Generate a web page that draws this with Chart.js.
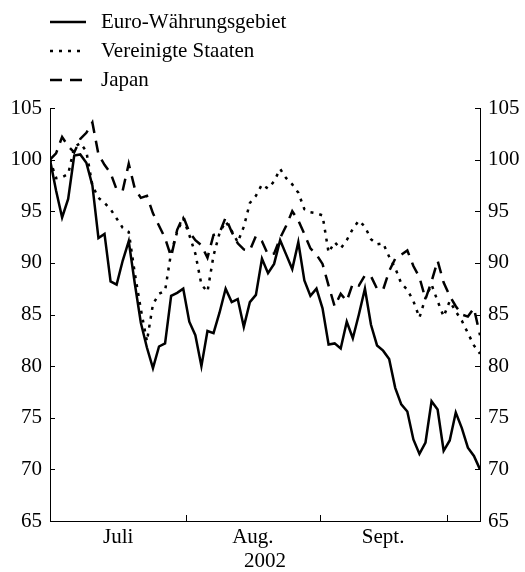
<!DOCTYPE html>
<html lang="de">
<head>
<meta charset="utf-8">
<title>Euro-Währungsgebiet, Vereinigte Staaten, Japan 2002</title>
<script src="https://cdn.jsdelivr.net/npm/chart.js@4.4.1/dist/chart.umd.min.js"></script>
<style>
  html, body { margin: 0; padding: 0; background: #fff; }
  #wrap   { position: relative; width: 525px; height: 572px; }
  #legend { position: absolute; left: 50px; top: 7px; font-family: "Liberation Serif", "Times New Roman", serif;
            font-size: 21px; color: #000; }
  #legend .row { display: flex; align-items: center; height: 29px; white-space: nowrap; }
  #legend canvas { margin-right: 15px; }
</style>
</head>
<body>
<div id="wrap">
  <canvas id="chart"></canvas>
  <div id="legend"></div>
</div>
<script>
// ------ Data (Handelstage 1. Juli – 8. Okt. 2002, Index) ------

const euroArea = [
  100.0, 97.0, 94.4, 96.2, 100.4, 100.5, 99.7, 97.5, 92.4, 92.8,
  88.2, 87.9, 90.2, 92.1, 88.0, 84.2, 81.8, 79.8, 81.9, 82.2,
  86.8, 87.1, 87.5, 84.3, 83.0, 80.0, 83.4, 83.2, 85.2, 87.5,
  86.2, 86.5, 83.8, 86.2, 86.9, 90.4, 89.0, 89.9, 92.2, 90.8,
  89.4, 92.0, 88.3, 86.8, 87.5, 85.6, 82.1, 82.2, 81.7, 84.3,
  82.7, 85.0, 87.5, 84.0, 82.0, 81.5, 80.7, 77.9, 76.3, 75.6,
  72.9, 71.5, 72.6, 76.6, 75.8, 71.8, 72.8, 75.5, 74.0, 72.1,
  71.3, 70.0
];

const unitedStates = [
  100.0, 98.2, 98.3, 98.6, 101.2, 101.6, 100.8, 97.5, 96.3, 95.8,
  95.2, 94.3, 93.4, 93.0, 89.0, 85.5, 82.4, 86.0, 87.0, 87.3,
  91.0, 93.0, 94.3, 92.7, 90.9, 87.9, 87.2, 90.7, 92.9, 94.0,
  93.1, 92.0, 93.5, 95.8, 96.5, 97.6, 97.2, 97.9, 99.1, 98.2,
  97.6, 96.8, 95.2, 94.9, 94.8, 94.6, 91.0, 92.0, 91.4, 92.2,
  93.3, 94.1, 93.5, 92.3, 91.8, 91.9, 90.6, 89.5, 88.0, 87.4,
  86.3, 84.7, 86.6, 87.9, 86.3, 84.8, 86.3, 85.3, 84.4, 83.2,
  82.0, 81.2
];

const japan = [
  100.0, 100.6, 102.2, 101.3, 100.7, 102.0, 102.6, 103.6, 100.5, 99.5,
  98.7, 97.1, 97.0, 99.6, 97.2, 96.3, 96.5, 94.8, 93.6, 92.4,
  90.6, 93.2, 94.5, 93.0, 92.2, 91.7, 90.5, 92.7, 92.9, 94.4,
  93.0, 91.9, 91.3, 91.2, 92.6, 92.1, 90.8, 90.9, 92.4, 93.6,
  95.0, 94.1, 92.8, 91.4, 90.8, 89.9, 87.8, 85.8, 87.0, 86.3,
  88.0, 87.8, 88.8, 88.7, 87.5, 87.4, 89.2, 90.4, 90.8, 91.2,
  89.7, 88.6, 86.5, 88.2, 90.2, 88.1, 86.8, 85.8, 85.0, 84.8,
  85.6, 83.0
];

const seriesLabels = ['Euro-Währungsgebiet', 'Vereinigte Staaten', 'Japan'];
const monthNames   = ['Juli', 'Aug.', 'Sept.'];
const monthCenters = [11.25, 33.5, 55];     // Mitte jedes Monats (Handelstag-Index)
const monthEdges   = [22.5, 44.5, 65.5];    // Monatswechsel
const yTicks       = [65, 70, 75, 80, 85, 90, 95, 100, 105];
const yearLabel    = '2002';

const FONT = { family: '"Liberation Serif", "Times New Roman", serif', size: 21 };

// ------ Plugins ------

// short tick marks pointing into the plot
const innerTicks = {
  id: 'innerTicks',
  afterDraw(chart) {
    const { ctx, chartArea: a, scales } = chart;
    ctx.save();
    ctx.strokeStyle = '#000';
    ctx.lineWidth = 1;
    ctx.beginPath();
    yTicks.forEach(v => {
      const py = Math.round(scales.y.getPixelForValue(v)) + 0.5;
      ctx.moveTo(a.left, py);  ctx.lineTo(a.left + 5, py);
      ctx.moveTo(a.right, py); ctx.lineTo(a.right - 5, py);
    });
    monthEdges.forEach(v => {
      const px = Math.round(scales.x.getPixelForValue(v)) + 0.5;
      ctx.moveTo(px, a.bottom); ctx.lineTo(px, a.bottom - 6);
    });
    ctx.stroke();
    ctx.restore();
  }
};

// vertical legend as html
const htmlLegend = {
  id: 'htmlLegend',
  afterUpdate(chart) {
    const box = document.getElementById('legend');
    box.innerHTML = '';
    chart.data.datasets.forEach(ds => {
      const row = document.createElement('div');
      row.className = 'row';
      const sw = document.createElement('canvas');
      sw.width = 36; sw.height = 10;
      const c = sw.getContext('2d');
      c.strokeStyle = ds.borderColor;
      c.lineWidth = ds.borderWidth;
      c.setLineDash(ds.borderDash || []);
      c.beginPath(); c.moveTo(0, 5); c.lineTo(36, 5); c.stroke();
      const txt = document.createElement('span');
      txt.textContent = ds.label;
      row.append(sw, txt);
      box.append(row);
    });
  }
};

// ------ Chart ------

const toPoints = arr => arr.map((v, i) => ({ x: i, y: v }));

const lineStyle = { borderColor: '#000', borderWidth: 2.5, pointRadius: 0, tension: 0,
                    borderCapStyle: 'butt', borderJoinStyle: 'miter', fill: false };

const yScale = pos => ({
  type: 'linear', position: pos, min: 65, max: 105,
  afterBuildTicks: s => { s.ticks = yTicks.map(v => ({ value: v })); },
  grid: { drawOnChartArea: false, drawTicks: false },
  border: { display: true, color: '#000', width: 1 },
  ticks: { font: FONT, color: '#000', padding: 8 },
  afterFit: s => { s.width = pos === 'left' ? 50 : 45; }
});

new Chart(document.getElementById('chart'), {
  type: 'line',
  data: {
    datasets: [
      { ...lineStyle, label: seriesLabels[0], data: toPoints(euroArea) },
      { ...lineStyle, label: seriesLabels[1], data: toPoints(unitedStates), borderDash: [3, 6] },
      { ...lineStyle, label: seriesLabels[2], data: toPoints(japan), borderDash: [12, 8] }
    ]
  },
  options: {
    responsive: true,
    maintainAspectRatio: false,
    animation: false,
    layout: { padding: { top: 108, left: 0, right: 0, bottom: 0 } },
    plugins: { legend: { display: false }, tooltip: { enabled: false } },
    scales: {
      x: {
        type: 'linear', min: 0, max: euroArea.length - 1,
        afterBuildTicks: s => { s.ticks = monthCenters.map(v => ({ value: v })); },
        grid: { drawOnChartArea: false, drawTicks: false },
        border: { display: true, color: '#000', width: 1 },
        ticks: { font: FONT, color: '#000', padding: 4, maxRotation: 0, autoSkip: false,
                 callback: (v, i) => monthNames[i] },
        title: { display: true, text: yearLabel, font: { ...FONT, lineHeight: 1 }, color: '#000',
                 padding: { top: 0, bottom: 0 } },
        afterFit: s => { s.height = 51; }
      },
      y:  yScale('left'),
      y2: yScale('right')
    }
  },
  plugins: [innerTicks, htmlLegend]
});
</script>
</body>
</html>
